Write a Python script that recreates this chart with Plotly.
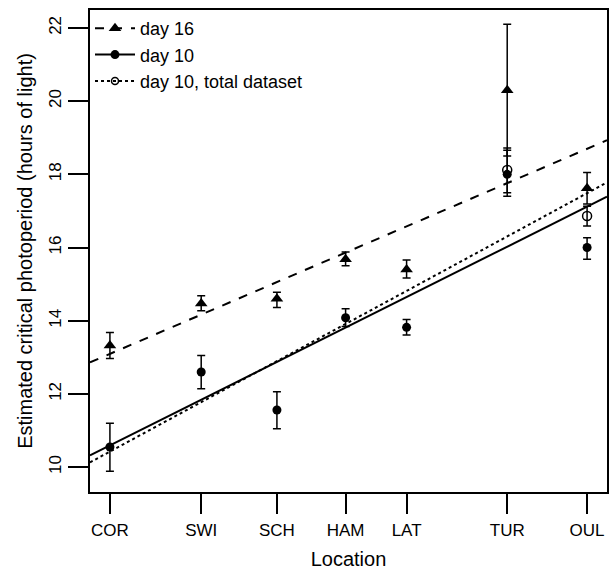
import numpy as np
import plotly.graph_objects as go

# Locations (positioned by latitude-like coordinate)
locations = ["COR", "SWI", "SCH", "HAM", "LAT", "TUR", "OUL"]
loc_pos = [42.0, 46.4, 50.05, 53.36, 56.3, 61.15, 65.0]

# day 16
d16_y = [13.32, 14.47, 14.6, 15.68, 15.4, 20.3, 17.62]
d16_hi = [13.68, 14.68, 14.78, 15.88, 15.66, 22.1, 18.05]
d16_lo = [12.97, 14.27, 14.36, 15.5, 15.17, 18.5, 17.19]

# day 10
d10_y = [10.55, 12.6, 11.56, 14.08, 13.82, 18.0, 16.0]
d10_hi = [11.2, 13.05, 12.06, 14.33, 14.03, 18.66, 16.27]
d10_lo = [9.89, 12.14, 11.05, 13.84, 13.61, 17.4, 15.68]

# day 10, total dataset (only where it differs)
tot_loc = ["TUR", "OUL"]
tot_y = [18.12, 16.86]
tot_hi = [18.72, 17.13]
tot_lo = [17.5, 16.59]

# regression lines: intercept, slope
fit_d16 = (2.863, 0.2436)
fit_d10 = (-1.319, 0.2836)
fit_tot = (-2.47, 0.307)

x_range = [41.04, 65.96]
y_range = [9.32, 22.49]
y_ticks = [10, 12, 14, 16, 18, 20, 22]

FONT = "Liberation Sans, Arial, sans-serif"

fig = go.Figure()

xl = np.array(x_range)
for (a, b), dash in [(fit_d16, "dash"), (fit_d10, "solid"), (fit_tot, "dot")]:
    fig.add_trace(go.Scatter(x=xl, y=a + b * xl, mode="lines",
                             line=dict(color="black", width=2, dash=dash),
                             showlegend=False, hoverinfo="skip"))

def err(y, hi, lo):
    return dict(type="data", symmetric=False,
                array=[h - v for h, v in zip(hi, y)],
                arrayminus=[v - l for v, l in zip(y, lo)],
                color="black", thickness=1.5, width=4)

fig.add_trace(go.Scatter(x=loc_pos, y=d16_y, mode="markers",
                         marker=dict(symbol="triangle-up", size=11, color="black"),
                         error_y=err(d16_y, d16_hi, d16_lo), showlegend=False))
fig.add_trace(go.Scatter(x=loc_pos, y=d10_y, mode="markers",
                         marker=dict(symbol="circle", size=9, color="black"),
                         error_y=err(d10_y, d10_hi, d10_lo), showlegend=False))
tot_x = [loc_pos[locations.index(l)] for l in tot_loc]
fig.add_trace(go.Scatter(x=tot_x, y=tot_y, mode="markers",
                         marker=dict(symbol="circle-open", size=9, color="black",
                                     line=dict(width=1.5, color="black")),
                         error_y=err(tot_y, tot_hi, tot_lo), showlegend=False))

# legend entries
fig.add_trace(go.Scatter(x=[None], y=[None], mode="lines+markers", name="day 16",
                         line=dict(color="black", width=2, dash="dash"),
                         marker=dict(symbol="triangle-up", size=11, color="black")))
fig.add_trace(go.Scatter(x=[None], y=[None], mode="lines+markers", name="day 10",
                         line=dict(color="black", width=2, dash="solid"),
                         marker=dict(symbol="circle", size=9, color="black")))
fig.add_trace(go.Scatter(x=[None], y=[None], mode="lines+markers",
                         name="day 10, total dataset",
                         line=dict(color="black", width=2, dash="dot"),
                         marker=dict(symbol="circle-open", size=7, color="black",
                                     line=dict(width=1.5, color="black"))))

fig.update_layout(
    width=615, height=573,
    margin=dict(l=90, r=6, t=10, b=76),
    paper_bgcolor="white", plot_bgcolor="white",
    font=dict(family=FONT, size=17, color="black"),
    legend=dict(x=0.0, y=1.0, xanchor="left", yanchor="top",
                bgcolor="rgba(0,0,0,0)", font=dict(size=18),
                tracegroupgap=0, itemwidth=40),
)
fig.update_xaxes(range=x_range, tickvals=loc_pos, ticktext=locations,
                 showgrid=False, zeroline=False,
                 showline=True, mirror=True, linecolor="black", linewidth=1.5,
                 ticks="outside", ticklen=20, tickwidth=1.5, tickcolor="black",
                 tickfont=dict(size=17), ticklabelstandoff=2,
                 title=dict(text="Location", font=dict(size=20), standoff=13))
fig.update_yaxes(range=y_range, tickvals=y_ticks, tickangle=-90,
                 showgrid=False, zeroline=False,
                 showline=True, mirror=True, linecolor="black", linewidth=1.5,
                 ticks="outside", ticklen=20, tickwidth=1.5, tickcolor="black",
                 tickfont=dict(size=17),
                 title=dict(text="Estimated critical photoperiod (hours of light)",
                            font=dict(size=20), standoff=8))

fig.write_html("out.html")
